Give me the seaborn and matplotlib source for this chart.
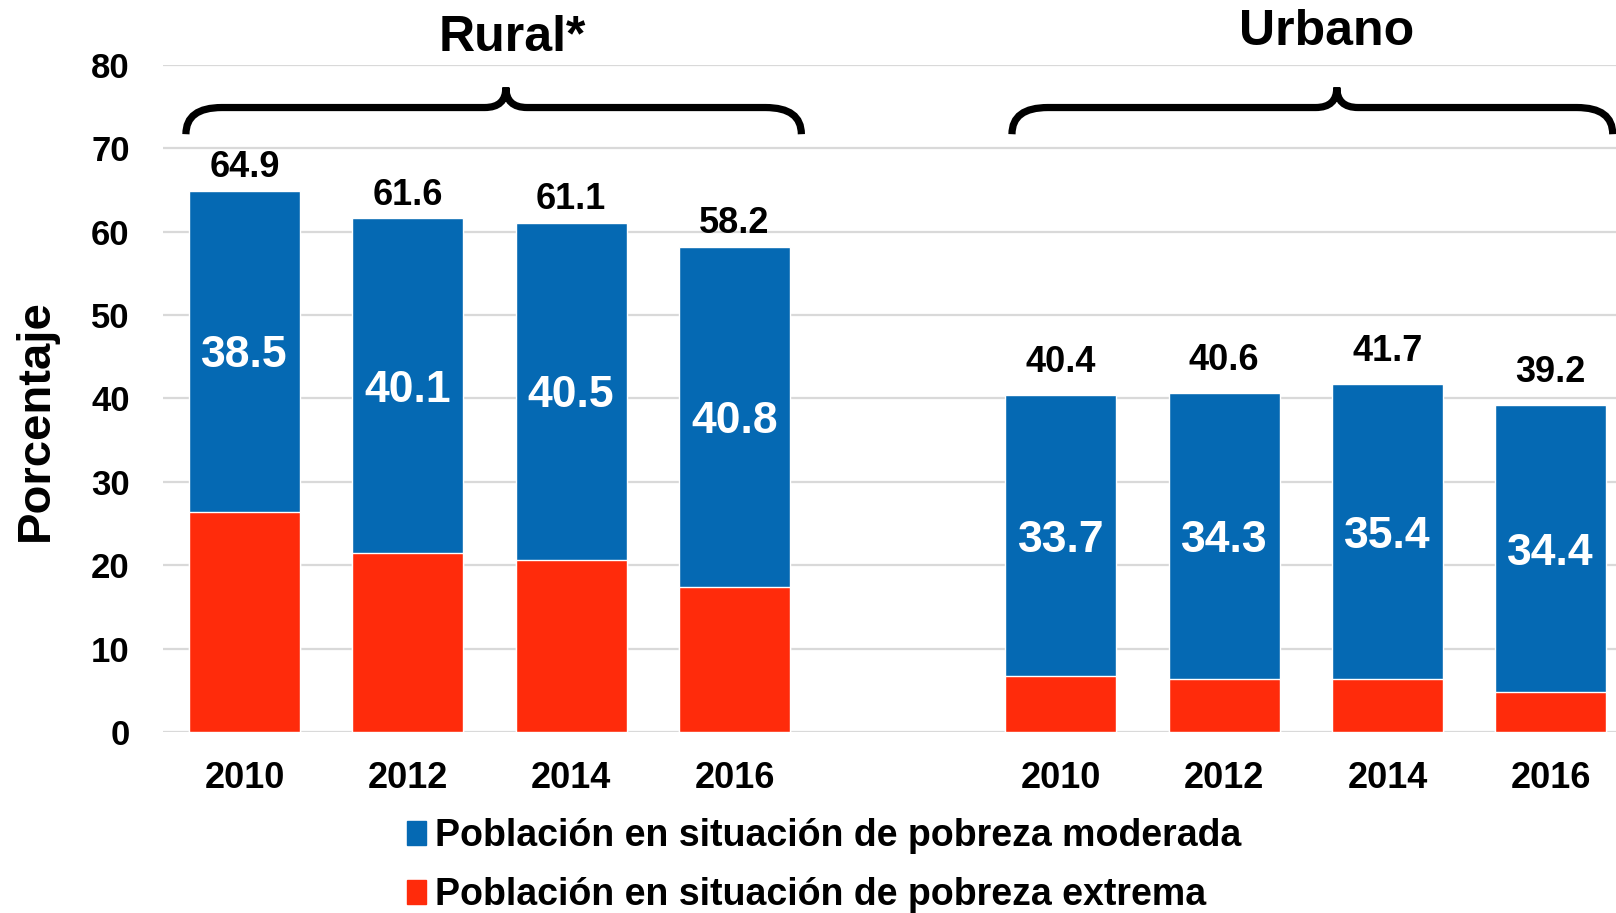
import matplotlib
matplotlib.use("Agg")
import matplotlib.pyplot as plt
from matplotlib.path import Path
from matplotlib.patches import PathPatch, Patch
import seaborn as sns
import pandas as pd
import numpy as np

# data
groups = ["Rural*", "Urbano"]
years = ["2010", "2012", "2014", "2016"]
moderada_rural = [38.5, 40.1, 40.5, 40.8]
extrema_rural = [26.4, 21.5, 20.6, 17.4]
moderada_urbano = [33.7, 34.3, 35.4, 34.4]
extrema_urbano = [6.7, 6.3, 6.3, 4.8]
yticks = [0, 10, 20, 30, 40, 50, 60, 70, 80]
label_mod = "Población en situación de pobreza moderada"
label_ext = "Población en situación de pobreza extrema"

BLUE = "#0569B3"
RED = "#FF2B0B"
GRID = "#D9D9D9"

sns.set_style("white")
FONT = ["Liberation Sans", "DejaVu Sans"]
plt.rcParams["font.family"] = FONT
plt.rcParams["font.weight"] = "bold"
plt.rcParams["text.color"] = "black"
plt.rcParams["xtick.color"] = "black"
plt.rcParams["ytick.color"] = "black"

rows = []
for g, (mod, ext) in enumerate([(moderada_rural, extrema_rural), (moderada_urbano, extrema_urbano)]):
    for i, y in enumerate(years):
        rows.append({"grupo": g, "year": y, "pos": g * 5 + i,
                     "moderada": mod[i], "extrema": ext[i],
                     "total": round(mod[i] + ext[i], 1)})
df = pd.DataFrame(rows)

fig = plt.figure(figsize=(16.16, 9.13), dpi=100)
ax = fig.add_axes([0.1009, 0.1983, 0.8991, 0.7305])

sns.barplot(data=df, x="pos", y="total", native_scale=True, width=0.68, color=BLUE,
            saturation=1, errorbar=None, ax=ax, zorder=3)
sns.barplot(data=df, x="pos", y="extrema", native_scale=True, width=0.68, color=RED,
            saturation=1, errorbar=None, ax=ax, zorder=3)

# total labels sit a little higher over the urban bars in the original
label_gap = [4, 11]
for _, r in df.iterrows():
    ax.text(r["pos"], r["extrema"] + r["moderada"] / 2, f"{r['moderada']:.1f}",
            ha="center", va="center_baseline", color="white", fontsize=32,
            fontweight="bold", zorder=4)
    ax.annotate(f"{r['total']:.1f}", (r["pos"], r["total"]), xytext=(0, label_gap[r["grupo"]]),
                textcoords="offset points", ha="center", va="bottom",
                fontsize=26, fontweight="bold", color="black")

ax.set_xlim(-0.5, 8.4)
ax.set_ylim(0, 80)
ax.set_yticks(yticks)
ax.set_yticklabels([str(t) for t in yticks], fontsize=25, fontweight="bold")
ax.set_xticks(df["pos"])
ax.set_xticklabels(df["year"], fontsize=26, fontweight="bold")
ax.tick_params(axis="y", length=0, pad=24)
ax.tick_params(axis="x", length=0, pad=21)
ax.set_xlabel("")
ax.set_ylabel("")
ax.grid(axis="y", color=GRID, lw=1.6, zorder=0)
ax.set_axisbelow(True)
sns.despine(ax=ax, left=True, bottom=True, top=True, right=True)

fig.text(36 / 1616, 1 - 420 / 913, "Porcentaje", rotation=90, ha="center", va="center",
         fontsize=34, fontweight="bold")


def brace(x0, x1, xt, ylo, ymid, ytop, rx=0.22, rt=0.13):
    verts = [(x0, ylo), (x0, ymid), (x0 + rx, ymid),
             (xt - rt, ymid), (xt, ymid), (xt, ytop),
             (xt, ymid), (xt + rt, ymid),
             (x1 - rx, ymid), (x1, ymid), (x1, ylo)]
    codes = [Path.MOVETO, Path.CURVE3, Path.CURVE3,
             Path.LINETO, Path.CURVE3, Path.CURVE3,
             Path.CURVE3, Path.CURVE3,
             Path.LINETO, Path.CURVE3, Path.CURVE3]
    ax.add_patch(PathPatch(Path(verts, codes), fill=False, lw=5.2, color="black",
                           capstyle="butt", clip_on=False, zorder=5))


brace(-0.36, 3.41, 1.60, 71.7, 74.9, 77.3)
brace(4.70, 8.38, 6.69, 71.7, 74.9, 77.3)
ax.text(1.64, 83.2, groups[0], ha="center", va="center", fontsize=36, fontweight="bold", clip_on=False)
ax.text(6.63, 84.0, groups[1], ha="center", va="center", fontsize=36, fontweight="bold", clip_on=False)

handles = [Patch(color=BLUE), Patch(color=RED)]
fig.legend(handles, [label_mod, label_ext], loc="upper left", bbox_to_anchor=(0.252, 0.104),
           frameon=False, handlelength=0.5, handleheight=0.6, handletextpad=0.25,
           labelspacing=0.62, borderaxespad=0, borderpad=0,
           prop={"family": FONT, "weight": "bold", "size": 27})

fig.savefig("out.png", dpi=100)
